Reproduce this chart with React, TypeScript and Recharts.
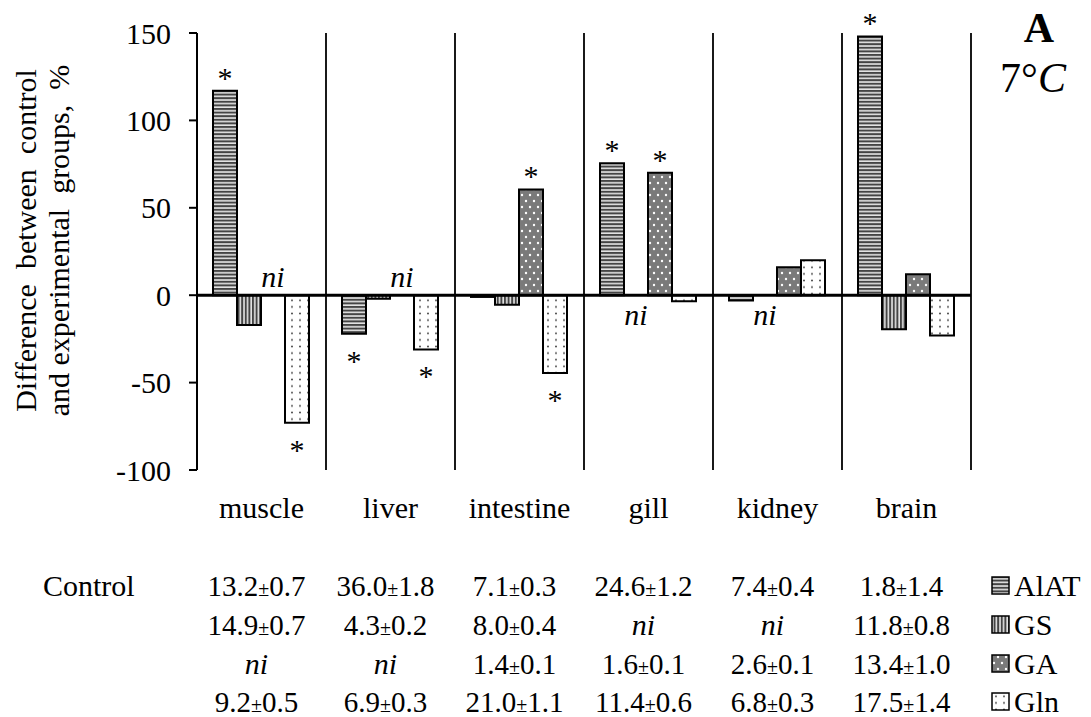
import React from "react";
import { BarChart, Bar, XAxis, YAxis, CartesianGrid, ReferenceLine, LabelList } from "recharts";

const tissues = ["muscle", "liver", "intestine", "gill", "kidney", "brain"];

// difference between control and experimental groups, %
const alat = [117, -22, -1, 75.5, -3, 148];
const gs = [-17, -2, -5.5, null, null, -19.5];
const ga = [null, null, 60.5, 70, 16, 12];
const gln = [-73, -31, -44.5, -3.5, 20, -23];

// significant differences (*)
const alatStar = [true, true, false, true, false, true];
const gsStar = [false, false, false, false, false, false];
const gaStar = [false, false, true, true, false, false];
const glnStar = [true, true, true, false, false, false];

// "ni" marks for missing bars: above or below the zero line
const noNi = [null, null, null, null, null, null];
const gsNi = [null, null, null, "down", "down", null];
const gaNi = ["up", "up", null, null, null, null];

const yTicks = [-100, -50, 0, 50, 100, 150];

// control values under the chart
const ctlAlat = ["13.2±0.7", "36.0±1.8", "7.1±0.3", "24.6±1.2", "7.4±0.4", "1.8±1.4"];
const ctlGs = ["14.9±0.7", "4.3±0.2", "8.0±0.4", "ni", "ni", "11.8±0.8"];
const ctlGa = ["ni", "ni", "1.4±0.1", "1.6±0.1", "2.6±0.1", "13.4±1.0"];
const ctlGln = ["9.2±0.5", "6.9±0.3", "21.0±1.1", "11.4±0.6", "6.8±0.3", "17.5±1.4"];

const W = 1091;
const H = 717;
const PLOT_LEFT = 197;
const PLOT_RIGHT = 971;
const PLOT_TOP = 33;
const PLOT_BOTTOM = 470;
const Y_AXIS_W = 80;
const X_AXIS_H = 40;
const COL_W = (PLOT_RIGHT - PLOT_LEFT) / tissues.length;
const FONT = "'Liberation Serif', 'Times New Roman', serif";

const data = tissues.map(function (t, i) {
  return { tissue: t, AlAT: alat[i], GS: gs[i], GA: ga[i], Gln: gln[i] };
});

const series = [
  { key: "AlAT", fill: "url(#pAlAT)", stars: alatStar, ni: noNi, table: ctlAlat },
  { key: "GS", fill: "url(#pGS)", stars: gsStar, ni: gsNi, table: ctlGs },
  { key: "GA", fill: "url(#pGA)", stars: gaStar, ni: gaNi, table: ctlGa },
  { key: "Gln", fill: "url(#pGln)", stars: glnStar, ni: noNi, table: ctlGln }
];

function Patterns({ suffix }: { suffix: string }) {
  return (
    <defs>
      <pattern id={"pAlAT" + suffix} patternUnits="userSpaceOnUse" width="6" height="3.6">
        <rect width="6" height="3.6" fill="#e4e4e4" />
        <rect width="6" height="2" fill="#444" />
      </pattern>
      <pattern id={"pGS" + suffix} patternUnits="userSpaceOnUse" width="3.6" height="6">
        <rect width="3.6" height="6" fill="#e4e4e4" />
        <rect width="2" height="6" fill="#444" />
      </pattern>
      <pattern id={"pGA" + suffix} patternUnits="userSpaceOnUse" width="8" height="12">
        <rect width="8" height="12" fill="#7a7a7a" />
        <circle cx="2" cy="3" r="1.2" fill="#fff" />
        <circle cx="6" cy="9" r="1.2" fill="#fff" />
      </pattern>
      <pattern id={"pGln" + suffix} patternUnits="userSpaceOnUse" width="8" height="6.6">
        <rect width="8" height="6.6" fill="#fff" />
        <circle cx="4" cy="3.3" r="0.9" fill="#333" />
      </pattern>
    </defs>
  );
}

// stars over/under each bar; the first series also carries the "ni" marks of its category
function makeMarks(seriesIdx: number) {
  return function Marks(props: any) {
    const vb = props.viewBox || {};
    const x = Number(props.x ?? vb.x);
    const y = Number(props.y ?? vb.y);
    const width = Number(props.width ?? vb.width);
    const height = Number(props.height ?? vb.height ?? 0);
    const raw = props.value;
    const v = Array.isArray(raw) ? raw[1] : raw;
    if (v == null || isNaN(x) || isNaN(y)) return null;
    const cx = x + width / 2;
    const cat = Math.floor((cx - PLOT_LEFT) / COL_W);
    const top = Math.min(y, y + height);
    const bottom = Math.max(y, y + height);
    const zeroY = v > 0 ? bottom : top;
    const out: React.ReactNode[] = [];
    if (series[seriesIdx].stars[cat]) {
      out.push(
        <text key="s" x={cx} y={v > 0 ? top - 3 : bottom + 37} textAnchor="middle"
          fontFamily={FONT} fontSize={30} fill="#000">
          *
        </text>
      );
    }
    if (seriesIdx === 0) {
      series.forEach(function (s, k) {
        const side = s.ni[cat];
        if (!side) return;
        out.push(
          <text key={"n" + k} x={x + width * (k + 0.5)} y={side === "up" ? zeroY - 8 : zeroY + 30}
            textAnchor="middle" fontFamily={FONT} fontSize={30} fontStyle="italic" fill="#000">
            ni
          </text>
        );
      });
    }
    return <g>{out}</g>;
  };
}

function YLabel(props: any) {
  const vb = props.viewBox || {};
  const cy = (vb.y ?? PLOT_TOP) + (vb.height ?? PLOT_BOTTOM - PLOT_TOP) / 2 - 11;
  return (
    <g>
      <text transform={`rotate(-90, 36, ${cy})`} x={36} y={cy} textAnchor="middle"
        fontFamily={FONT} fontSize={30} fill="#000" style={{ whiteSpace: "pre" }}>
        {"Difference  between  control"}
      </text>
      <text transform={`rotate(-90, 69, ${cy})`} x={69} y={cy} textAnchor="middle"
        fontFamily={FONT} fontSize={30} fill="#000" style={{ whiteSpace: "pre" }}>
        {"and experimental  groups,  %"}
      </text>
    </g>
  );
}

function TissueTick(props: any) {
  const { x, y, payload } = props;
  return (
    <text x={x} y={y + 40} textAnchor="middle" fontFamily={FONT} fontSize={30} fill="#000">
      {payload.value}
    </text>
  );
}

function Cell({ x, y, text }: { x: number; y: number; text: string }) {
  if (text === "ni") {
    return (
      <text x={x} y={y} textAnchor="middle" fontFamily={FONT} fontSize={30} fontStyle="italic">
        ni
      </text>
    );
  }
  const [a, b] = text.split("±");
  return (
    <text x={x} y={y} textAnchor="middle" fontFamily={FONT} fontSize={29}>
      {a}
      <tspan fontSize={20}>±</tspan>
      {b}
    </text>
  );
}

function Overlay() {
  const rowY = [596, 635, 674, 712];
  return (
    <svg width={W} height={H} style={{ position: "absolute", left: 0, top: 0, pointerEvents: "none" }}>
      <Patterns suffix="L" />
      <text x={1039} y={42} textAnchor="middle" fontFamily={FONT} fontSize={42} fontWeight="bold">
        A
      </text>
      <text x={1033} y={92} textAnchor="middle" fontFamily={FONT} fontSize={42}>
        7°<tspan fontStyle="italic">C</tspan>
      </text>
      <text x={43} y={rowY[0]} fontFamily={FONT} fontSize={30}>
        Control
      </text>
      {series.map(function (s, r) {
        return (
          <g key={s.key}>
            {s.table.map(function (t, i) {
              return <Cell key={i} x={PLOT_LEFT + COL_W * (i + 0.5) - 5} y={rowY[r]} text={t} />;
            })}
            <rect x={992} y={rowY[r] - 19} width={17} height={17} fill={`url(#p${s.key}L)`} stroke="#000" strokeWidth={1.5} />
            <text x={1014} y={rowY[r]} fontFamily={FONT} fontSize={30}>
              {s.key}
            </text>
          </g>
        );
      })}
    </svg>
  );
}

export default function App() {
  const nCat = tissues.length;
  return (
    <div style={{ position: "absolute", left: 0, top: 0, width: W, height: H, background: "#fff" }}>
      <BarChart
        width={W}
        height={H}
        data={data}
        margin={{
          top: PLOT_TOP,
          right: W - PLOT_RIGHT,
          bottom: H - PLOT_BOTTOM - X_AXIS_H,
          left: PLOT_LEFT - Y_AXIS_W
        }}
        barCategoryGap={16}
        barGap={0}
      >
        <Patterns suffix="" />
        <CartesianGrid
          horizontal={false}
          stroke="#000"
          strokeWidth={1.8}
          verticalCoordinatesGenerator={function (p: any) {
            const off = p.offset || {};
            const w = off.width ?? p.width - off.left - off.right;
            return tissues.map(function (_, i) {
              return off.left + ((i + 1) * w) / nCat;
            });
          }}
        />
        <XAxis
          dataKey="tissue"
          height={X_AXIS_H}
          axisLine={false}
          tickLine={false}
          interval={0}
          tick={<TissueTick />}
        />
        <YAxis
          width={Y_AXIS_W}
          domain={[-100, 150]}
          ticks={yTicks}
          allowDataOverflow
          axisLine={{ stroke: "#000", strokeWidth: 2 }}
          tickLine={{ stroke: "#000", strokeWidth: 2 }}
          tickSize={8}
          tickMargin={18}
          tick={{ fontFamily: FONT, fontSize: 30, fill: "#000" }}
          label={{ content: <YLabel /> }}
        />
        {series.map(function (s, k) {
          return (
            <Bar key={s.key} dataKey={s.key} fill={s.fill} stroke="#000" strokeWidth={2} isAnimationActive={false}>
              <LabelList dataKey={s.key} content={makeMarks(k)} />
            </Bar>
          );
        })}
        <ReferenceLine y={0} stroke="#000" strokeWidth={3} />
      </BarChart>
      <Overlay />
    </div>
  );
}
